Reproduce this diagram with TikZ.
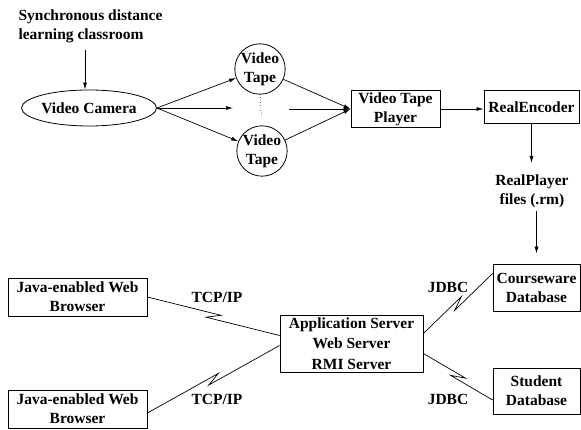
\documentclass[tikz,border=0pt]{standalone}
\usepackage{fontspec}
\setmainfont{Liberation Serif}
\usepackage{tikz}
\usetikzlibrary{shapes}
\usetikzlibrary{arrows.meta}
\usetikzlibrary{calc}

\tikzset{
  every node/.style={font=\fontsize{15.5}{19}\selectfont\bfseries},
  box/.style={draw, rectangle, line width=0.8pt, inner sep=1pt, align=center},
  tape/.style={draw, circle, line width=0.8pt, minimum size=49pt, inner sep=0pt, align=center},
  arr/.style={line width=0.7pt, -{Latex[length=7pt,width=4pt]}},
  bolt/.style={line width=0.7pt, to path={-- ($(\tikztostart)!0.5!(\tikztotarget)!7pt!(\tikztotarget)!3pt!90:(\tikztotarget)$) -- ($(\tikztostart)!0.5!(\tikztotarget)!-7pt!(\tikztotarget)!3pt!-90:(\tikztotarget)$) -- (\tikztotarget)}}
}

\begin{document}
\begin{tikzpicture}
\useasboundingbox (0,0) rectangle (581pt,-430pt);
% capture chain
\node[anchor=west, align=left] (classroom) at (15pt,-26pt) {Synchronous distance\\learning classroom};
\node[draw, ellipse, line width=0.8pt, minimum width=124pt, minimum height=36pt, inner sep=0pt] (camera) at (89pt,-108pt) {Video Camera};
\node[tape] (tape1) at (260pt,-69pt) {Video\\Tape};
\node[tape] (tape2) at (262pt,-151pt) {Video\\Tape};
\node[box, minimum width=89pt, minimum height=37pt] (player) at (395.5pt,-109pt) {Video Tape\\Player};
\node[box, minimum width=95pt, minimum height=33pt] (encoder) at (531.5pt,-107pt) {RealEncoder};
\node[align=center] (files) at (532pt,-191pt) {RealPlayer\\files (.rm)};
\coordinate (mid1) at (233pt,-108pt);
\coordinate (mid2) at (289pt,-109pt);
\draw[arr] ([xshift=-4pt]camera.north |- classroom.south) ++(0,-4pt) -- ([xshift=-4pt]camera.north);
\draw[arr] (camera.east) -- (tape1);
\draw[arr] (camera.east) -- (tape2);
\draw[arr] (camera.east) -- (mid1);
\draw[arr] (mid2) -- (player.west);
\draw[arr] (tape1) -- (player.west);
\draw[arr] (tape2) -- (player.west);
\draw[dotted, line width=0.6pt, shorten >=8pt] (tape1.south) -- (tape2.north);
\draw[arr] (player.east) -- (player.east -| encoder.west);
\draw[arr, shorten >=8pt] (encoder.south) -- (encoder.south |- files.north);
% delivery side
\node[box, minimum width=87pt, minimum height=47pt] (course) at (536.5pt,-287.5pt) {Courseware\\Database};
\node[box, minimum width=87pt, minimum height=46pt] (student) at (536.5pt,-391pt) {Student\\Database};
\node[box, minimum width=143pt, minimum height=57pt, font=\fontsize{15.5}{20.5}\selectfont\bfseries] (app) at (351.5pt,-343.5pt) {Application Server\\Web Server\\RMI Server};
\node[box, minimum width=139pt, minimum height=38pt] (browser1) at (77.5pt,-297pt) {Java-enabled Web\\Browser};
\node[box, minimum width=139pt, minimum height=38pt] (browser2) at (77.5pt,-409pt) {Java-enabled Web\\Browser};
\draw[arr, shorten >=10pt] (files.south -| course.north) -- (course.north);
\draw[bolt] (browser1.east) to ([yshift=8pt]app.west);
\draw[bolt] ([yshift=-4pt]browser2.east) to ([yshift=-2pt]app.west);
\draw[bolt] ([yshift=10pt]app.east) to ([yshift=14pt]course.west);
\draw[bolt] ([yshift=-10pt]app.east) to ([yshift=-9pt]student.west);
\node (tcp1) at (217pt,-297pt) {TCP/IP};
\node (tcp2) at (217pt,-399pt) {TCP/IP};
\node (jdbc1) at (448pt,-287pt) {JDBC};
\node (jdbc2) at (448pt,-399pt) {JDBC};
\end{tikzpicture}
\end{document}
